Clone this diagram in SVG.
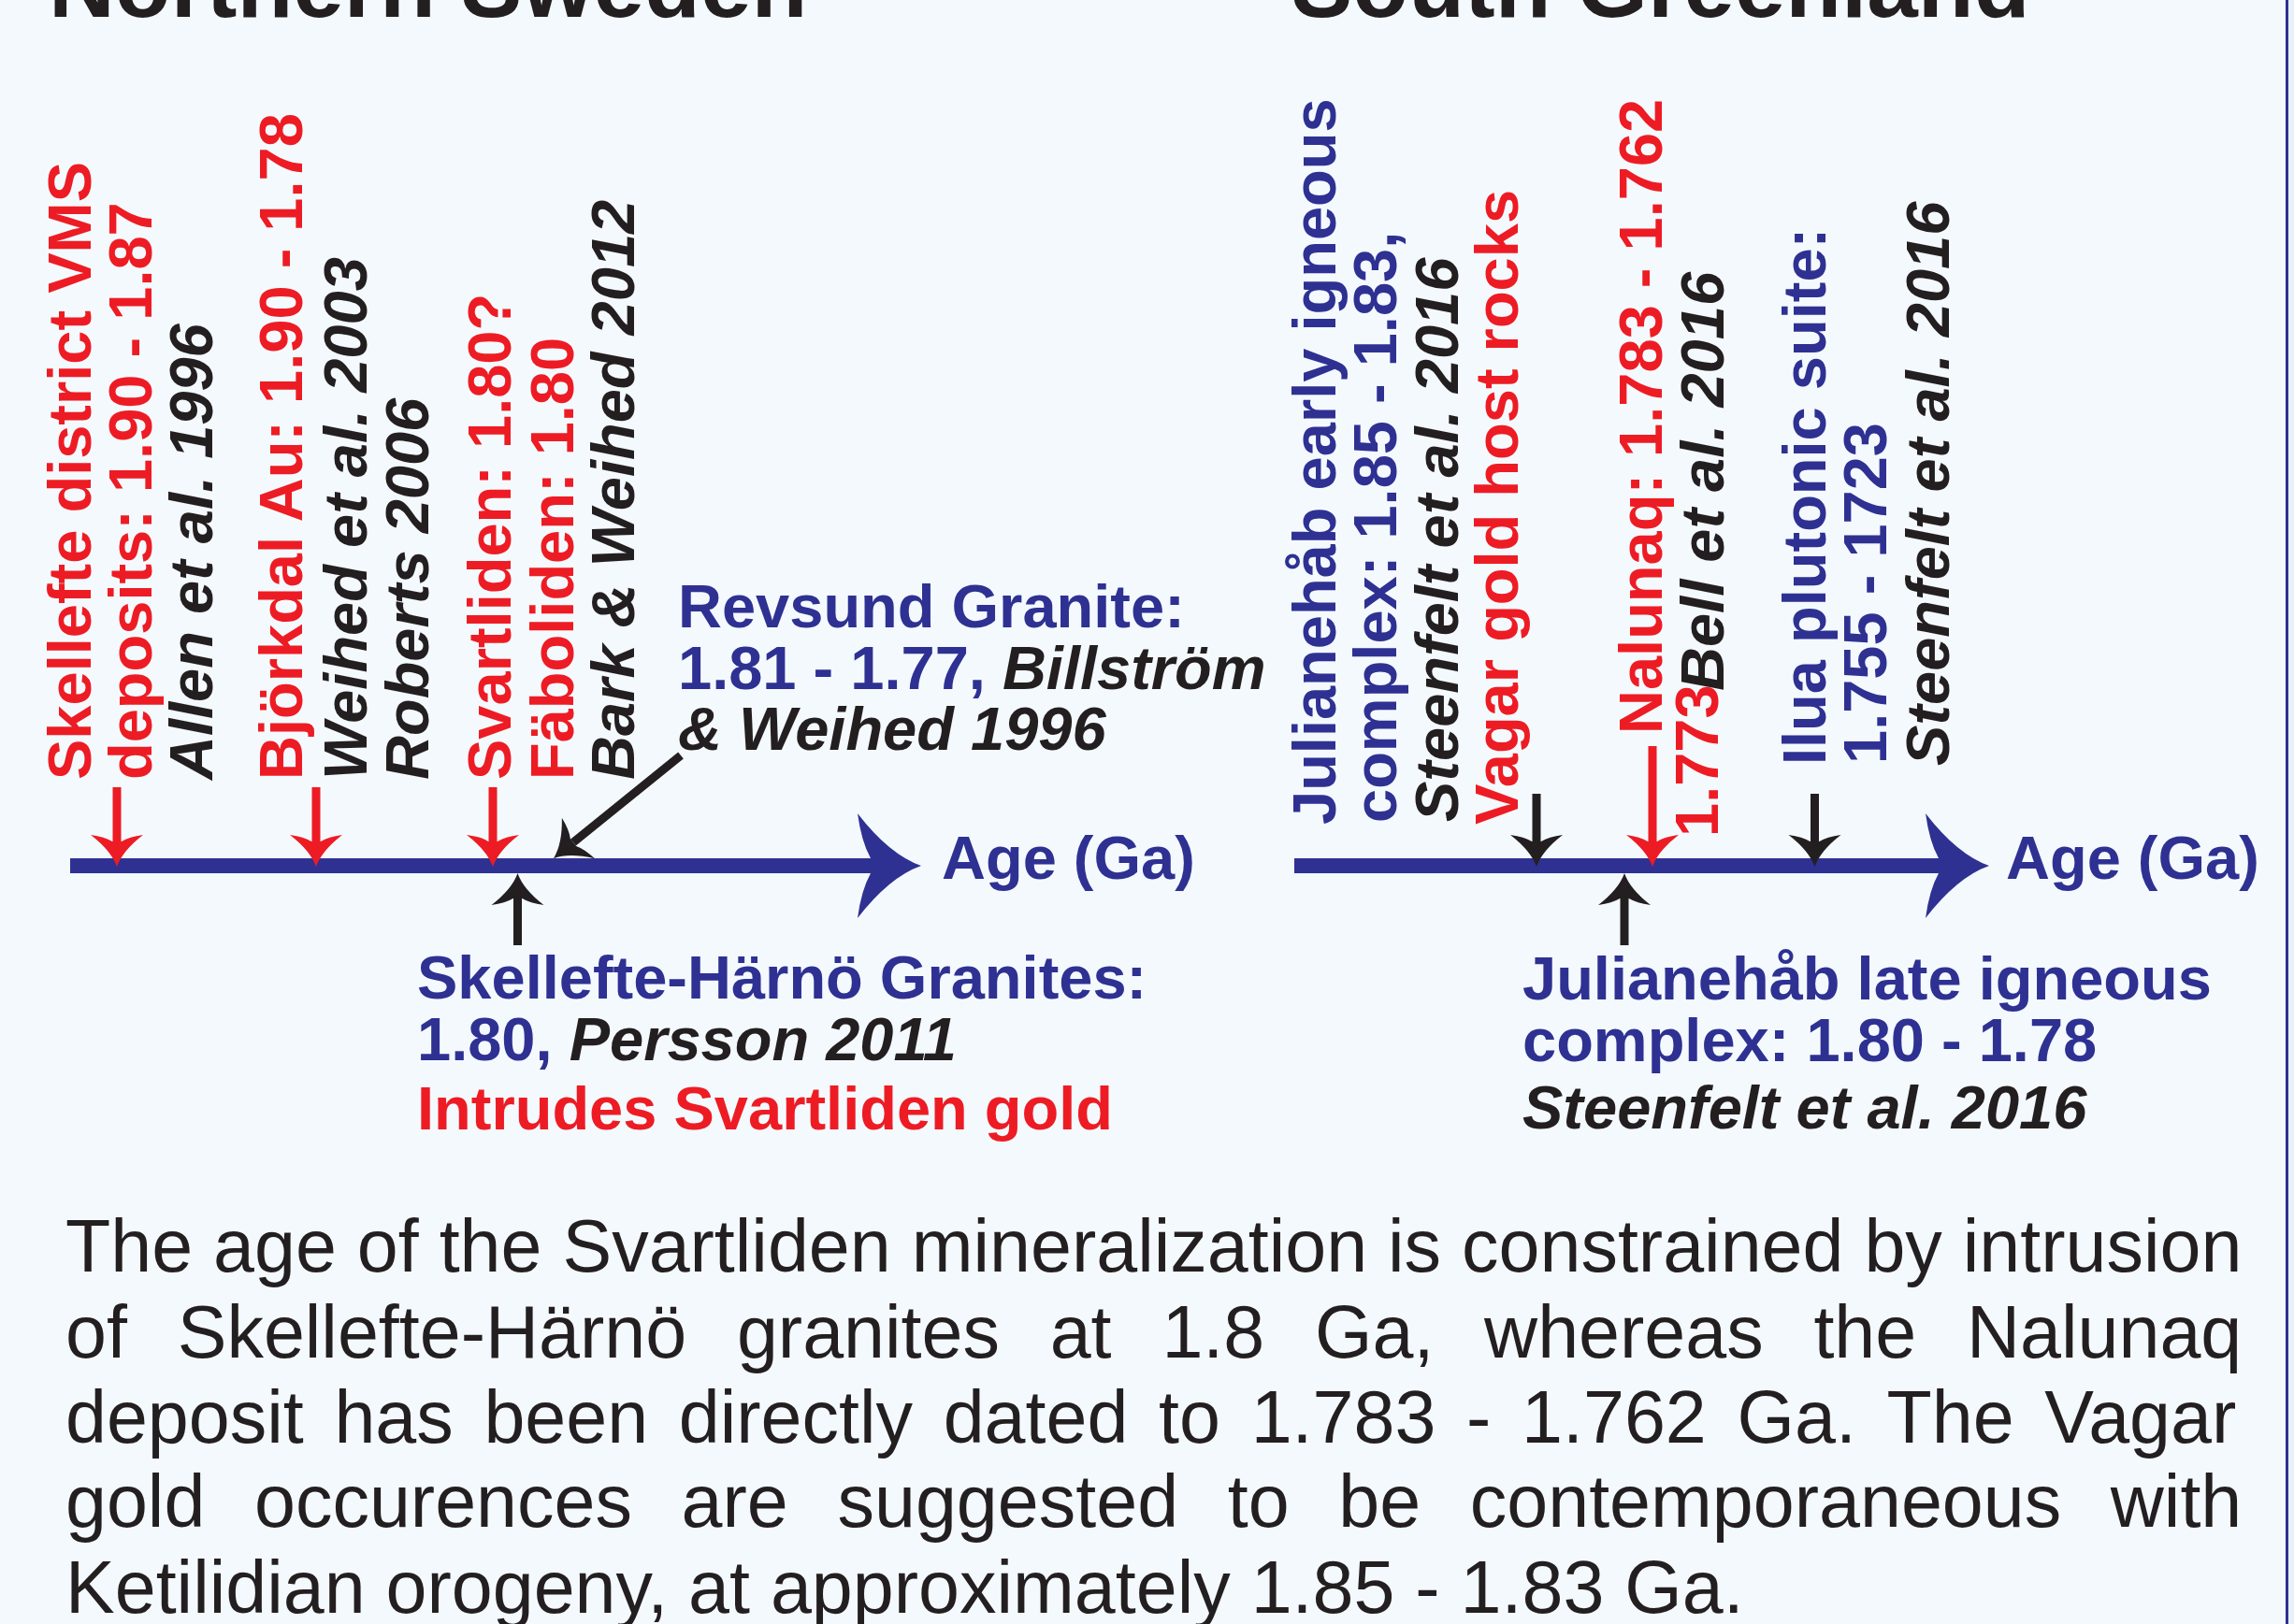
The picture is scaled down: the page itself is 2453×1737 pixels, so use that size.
<svg xmlns="http://www.w3.org/2000/svg" width="2453" height="1737" viewBox="0 0 2453 1737">
<style>
text { font-family: "Liberation Sans", Arial, Helvetica, sans-serif; }
.b { font-weight: bold; font-size: 65px; }
.t { font-weight: bold; font-size: 98px; fill: #231F20; }
.body { font-size: 79px; fill: #231F20; }
.red { fill: #ED1C24; }
.blue { fill: #2E3192; }
.blk { fill: #231F20; }
.it { font-style: italic; }
.cR { stroke: #ED1C24; stroke-width: 9; fill: none; }
.cK { stroke: #231F20; stroke-width: 9; fill: none; }
.ax { stroke: #2E3192; stroke-width: 16; fill: none; }
</style>
<defs>
<marker id="mR" viewBox="-36 -30 38 60" refX="-27" refY="0" markerWidth="38" markerHeight="60" orient="auto" markerUnits="userSpaceOnUse" overflow="visible">
<path d="M0,0 Q-17,-6 -34,-28 Q-32,-13 -27,-5 L-27,5 Q-32,13 -34,28 Q-17,6 0,0 Z" fill="#ED1C24"/>
</marker>
<marker id="mK" viewBox="-36 -30 38 60" refX="-27" refY="0" markerWidth="38" markerHeight="60" orient="auto" markerUnits="userSpaceOnUse" overflow="visible">
<path d="M0,0 Q-17,-6 -34,-28 Q-32,-13 -27,-5 L-27,5 Q-32,13 -34,28 Q-17,6 0,0 Z" fill="#231F20"/>
</marker>
<marker id="mB" viewBox="-70 -58 72 116" refX="-54" refY="0" markerWidth="72" markerHeight="116" orient="auto" markerUnits="userSpaceOnUse" overflow="visible">
<path d="M0,0 Q-34,-12 -68,-56 Q-64,-26 -54,-8 L-54,8 Q-64,26 -68,56 Q-34,12 0,0 Z" fill="#2E3192"/>
</marker>
</defs>
<rect x="0" y="0" width="2453" height="1737" fill="#F4F9FD"/>
<rect x="2447" y="0" width="6" height="1737" fill="#E8F0F8"/>
<rect x="2444" y="0" width="3" height="1737" fill="#2E3192"/>

<g id="titles">
<text class="t" x="52" y="18">Northern Sweden</text>
<text class="t" x="1381" y="18">South Greenland</text>
</g>

<g id="connectors">
<path class="cK" d="M728,808 L613,901" marker-end="url(#mK)"/>
<path class="ax" d="M75,926 L931,926" marker-end="url(#mB)"/>
<path class="ax" d="M1384,926 L2073,926" marker-end="url(#mB)"/>
<path class="cR" d="M125,842 L125,900" marker-end="url(#mR)"/>
<path class="cR" d="M338,842 L338,900" marker-end="url(#mR)"/>
<path class="cR" d="M527,842 L527,900" marker-end="url(#mR)"/>
<path class="cK" d="M553.5,1011 L553.5,961" marker-end="url(#mK)"/>
<path class="cK" d="M1643,849 L1643,900" marker-end="url(#mK)"/>
<path class="cR" d="M1767,798 L1767,900" marker-end="url(#mR)"/>
<path class="cK" d="M1940.5,849 L1940.5,900" marker-end="url(#mK)"/>
<path class="cK" d="M1737,1011 L1737,961" marker-end="url(#mK)"/>
</g>

<g id="axis-label-left"><text class="b blue" x="1007" y="940" font-size="66">Age (Ga)</text></g>
<g id="axis-label-right"><text class="b blue" x="2145" y="940" font-size="66">Age (Ga)</text></g>

<g id="skellefte-vms">
<text class="b red" transform="translate(97,834) rotate(-90)">Skellefte district VMS</text>
<text class="b red" transform="translate(162,834) rotate(-90)">deposits: 1.90 - 1.87</text>
<text class="b blk it" transform="translate(227,834) rotate(-90)">Allen et al. 1996</text>
</g>
<g id="bjorkdal">
<text class="b red" transform="translate(323,834) rotate(-90)">Björkdal Au: 1.90 - 1.78</text>
<text class="b blk it" transform="translate(392,834) rotate(-90)">Weihed et al. 2003</text>
<text class="b blk it" transform="translate(458,834) rotate(-90)">Roberts 2006</text>
</g>
<g id="svartliden">
<text class="b red" transform="translate(546,834) rotate(-90)">Svartliden: 1.80?</text>
<text class="b red" transform="translate(613,834) rotate(-90)">Fäboliden: 1.80</text>
<text class="b blk it" transform="translate(678,834) rotate(-90)">Bark &amp; Weihed 2012</text>
</g>
<g id="revsund">
<text class="b blue" x="725" y="671">Revsund Granite:</text>
<text class="b blue" x="725" y="737">1.81 - 1.77, <tspan class="blk it">Billström</tspan></text>
<text class="b blk it" x="725" y="802">&amp; Weihed 1996</text>
</g>
<g id="skellefte-harno">
<text class="b blue" x="446" y="1068">Skellefte-Härnö Granites:</text>
<text class="b blue" x="446" y="1134">1.80, <tspan class="blk it">Persson 2011</tspan></text>
<text class="b red" x="446" y="1208">Intrudes Svartliden gold</text>
</g>

<g id="julianehab-early">
<text class="b blue" transform="translate(1428,882) rotate(-90)">Julianehåb early igneous</text>
<text class="b blue" transform="translate(1493,880) rotate(-90)">complex: 1.85 - 1.83,</text>
<text class="b blk it" transform="translate(1559,879) rotate(-90)">Steenfelt et al. 2016</text>
</g>
<g id="vagar">
<text class="b red" transform="translate(1623,882) rotate(-90)">Vagar gold host rocks</text>
</g>
<g id="nalunaq">
<text class="b red" transform="translate(1777,785) rotate(-90)">Nalunaq: 1.783 - 1.762</text>
<text class="b red" font-size="54" transform="translate(1837,895) rotate(-90)">1.773</text>
<text class="b blk it" transform="translate(1843,739) rotate(-90)">Bell et al. 2016</text>
</g>
<g id="ilua">
<text class="b blue" transform="translate(1952,818) rotate(-90)">Ilua plutonic suite:</text>
<text class="b blue" transform="translate(2017,817) rotate(-90)">1.755 - 1723</text>
<text class="b blk it" transform="translate(2084,819) rotate(-90)">Steenfelt et al. 2016</text>
</g>
<g id="julianehab-late">
<text class="b blue" x="1628" y="1069">Julianehåb late igneous</text>
<text class="b blue" x="1628" y="1135">complex: 1.80 - 1.78</text>
<text class="b blk it" x="1628" y="1207">Steenfelt et al. 2016</text>
</g>

<g id="caption">
<text class="body" x="70" y="1360">The age of the Svartliden mineralization is constrained by intrusion</text>
<text class="body" y="1452"><tspan x="70">of</tspan><tspan x="189.7">Skellefte-Härnö</tspan><tspan x="787.9">granites</tspan><tspan x="1122.7">at</tspan><tspan x="1242.4">1.8</tspan><tspan x="1406">Ga,</tspan><tspan x="1587.1">whereas</tspan><tspan x="1939.4">the</tspan><tspan x="2103">Nalunaq</tspan></text>
<text class="body" y="1543"><tspan x="70">deposit</tspan><tspan x="357.4">has</tspan><tspan x="517.4">been</tspan><tspan x="725.8">directly</tspan><tspan x="1008.7">dated</tspan><tspan x="1239.1">to</tspan><tspan x="1337.7">1.783</tspan><tspan x="1568.1">-</tspan><tspan x="1627.1">1.762</tspan><tspan x="1857.5">Ga.</tspan><tspan x="2017.5">The</tspan><tspan x="2186.3">Vagar</tspan></text>
<text class="body" y="1633"><tspan x="70">gold</tspan><tspan x="272">occurences</tspan><tspan x="728.6">are</tspan><tspan x="895.5">suggested</tspan><tspan x="1312.7">to</tspan><tspan x="1431.3">be</tspan><tspan x="1571.8">contemporaneous</tspan><tspan x="2256.8">with</tspan></text>
<text class="body" x="70" y="1725">Ketilidian orogeny, at approximately 1.85 - 1.83 Ga.</text>
</g>
</svg>
